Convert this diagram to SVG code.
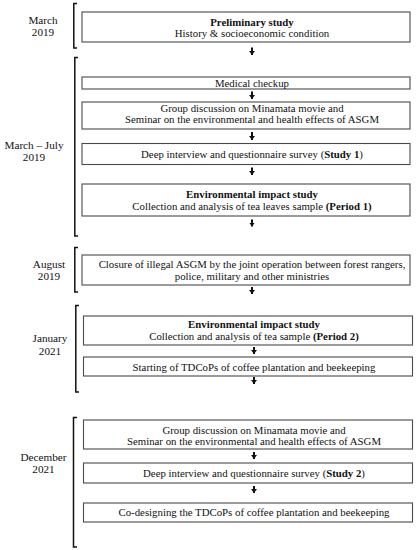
<svg xmlns="http://www.w3.org/2000/svg" width="416" height="550" viewBox="0 0 416 550">
<defs>
<style>
.box{fill:#fff;stroke:#4a4a4a;stroke-width:1.1}
.br{fill:none;stroke:#111;stroke-width:1.5}
.t{font-family:"Liberation Serif","Times New Roman",serif;font-size:10.8px;fill:#111;text-anchor:middle;dominant-baseline:central}
.b{font-weight:bold}
.lbl{font-family:"Liberation Serif","Times New Roman",serif;font-size:11.2px;fill:#111;text-anchor:middle;dominant-baseline:central}
.con{stroke:#111;stroke-width:2;fill:none}
</style>
<marker id="ah" viewBox="0 0 4 6" refX="4" refY="3" markerWidth="4" markerHeight="6" markerUnits="userSpaceOnUse" orient="auto">
<path d="M0,0 L4,3 L0,6 z" fill="#111"/>
</marker>
</defs>
<rect width="416" height="550" fill="#fff"/>

<g id="periods">
<g id="p1"><path class="br" d="M77,3.5 H73.8 V48 H77"/><text class="lbl" x="43" y="20">March</text><text class="lbl" x="43" y="32">2019</text></g>
<g id="p2"><path class="br" d="M78,57.5 H74.8 V236 H78"/><text class="lbl" x="34" y="145">March – July</text><text class="lbl" x="34" y="157">2019</text></g>
<g id="p3"><path class="br" d="M78,247.5 H74.8 V292 H78"/><text class="lbl" x="49" y="263.5">August</text><text class="lbl" x="49" y="276">2019</text></g>
<g id="p4"><path class="br" d="M79,305.5 H75.8 V392 H79"/><text class="lbl" x="50" y="338">January</text><text class="lbl" x="50" y="351">2021</text></g>
<g id="p5"><path class="br" d="M77,417.5 H73.5 V547 H77"/><text class="lbl" x="43.5" y="457">December</text><text class="lbl" x="43.5" y="468.5">2021</text></g>
</g>

<g id="n1"><rect class="box" x="82" y="12" width="328" height="30"/><text class="t b" x="252" y="21.5">Preliminary study</text><text class="t" x="252" y="33">History &amp; socioeconomic condition</text></g>
<g id="n2"><rect class="box" x="82" y="77" width="328" height="12"/><text class="t" x="252" y="82.8">Medical checkup</text></g>
<g id="n3"><rect class="box" x="82" y="102" width="328" height="27"/><text class="t" x="252" y="107.6">Group discussion on Minamata movie and</text><text class="t" x="252" y="119">Seminar on the environmental and health effects of ASGM</text></g>
<g id="n4"><rect class="box" x="82" y="143.5" width="328" height="21"/><text class="t" x="252" y="153.7">Deep interview and questionnaire survey (<tspan class="b">Study 1</tspan>)</text></g>
<g id="n5"><rect class="box" x="82" y="184" width="328" height="32"/><text class="t b" x="252" y="194.2">Environmental impact study</text><text class="t" x="252" y="205.8">Collection and analysis of tea leaves sample <tspan class="b">(Period 1)</tspan></text></g>
<g id="n6"><rect class="box" x="82" y="255" width="328" height="30"/><text class="t" x="252" y="263.5">Closure of illegal ASGM by the joint operation between forest rangers,</text><text class="t" x="252" y="275.7">police, military and other ministries</text></g>
<g id="n7"><rect class="box" x="83.5" y="316" width="329" height="29"/><text class="t b" x="254" y="324">Environmental impact study</text><text class="t" x="254" y="336">Collection and analysis of tea sample <tspan class="b">(Period 2)</tspan></text></g>
<g id="n8"><rect class="box" x="83.5" y="357" width="329" height="19"/><text class="t" x="254" y="366.5">Starting of TDCoPs of coffee plantation and beekeeping</text></g>
<g id="n9"><rect class="box" x="83.5" y="420" width="329" height="29"/><text class="t" x="254" y="429.5">Group discussion on Minamata movie and</text><text class="t" x="254" y="441">Seminar on the environmental and health effects of ASGM</text></g>
<g id="n10"><rect class="box" x="83.5" y="463" width="329" height="20"/><text class="t" x="254" y="473.3">Deep interview and questionnaire survey (<tspan class="b">Study 2</tspan>)</text></g>
<g id="n11"><rect class="box" x="83.5" y="503" width="329" height="19"/><text class="t" x="254" y="511.7">Co-designing the TDCoPs of coffee plantation and beekeeping</text></g>

<g id="connectors">
<line class="con" x1="252" y1="47.5" x2="252" y2="55" marker-end="url(#ah)"/>
<line class="con" x1="252" y1="91.5" x2="252" y2="99" marker-end="url(#ah)"/>
<line class="con" x1="252" y1="132" x2="252" y2="140" marker-end="url(#ah)"/>
<line class="con" x1="252" y1="167.5" x2="252" y2="175" marker-end="url(#ah)"/>
<line class="con" x1="252" y1="219.5" x2="252" y2="226.5" marker-end="url(#ah)"/>
<line class="con" x1="252" y1="287" x2="252" y2="294" marker-end="url(#ah)"/>
<line class="con" x1="254" y1="347" x2="254" y2="354" marker-end="url(#ah)"/>
<line class="con" x1="254" y1="377" x2="254" y2="384" marker-end="url(#ah)"/>
<line class="con" x1="254" y1="452" x2="254" y2="459" marker-end="url(#ah)"/>
<line class="con" x1="254" y1="486" x2="254" y2="493" marker-end="url(#ah)"/>
</g>
</svg>
